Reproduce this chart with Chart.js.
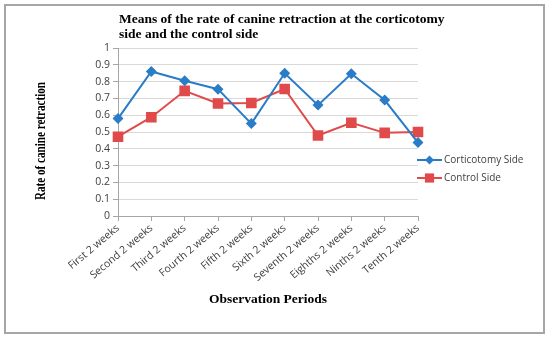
<!DOCTYPE html>
<html>
<head>
<meta charset="utf-8">
<script src="https://cdn.jsdelivr.net/npm/chart.js@4/dist/chart.umd.min.js"></script>
<style>
  html, body { margin: 0; padding: 0; background: #fff; }
  canvas { display: block; }
</style>
</head>
<body>
<canvas id="myChart" width="550" height="338"></canvas>
<script>
// Observation periods (x categories)
const periods = ['First 2 weeks', 'Second 2 weeks', 'Third 2 weeks', 'Fourth 2 weeks', 'Fifth 2 weeks',
  'Sixth 2 weeks', 'Seventh 2 weeks', 'Eighths 2 weeks', 'Ninths 2 weeks', 'Tenth 2 weeks'];

// Means
const corticotomySide = [0.58, 0.86, 0.805, 0.755, 0.55, 0.85, 0.66, 0.847, 0.69, 0.437];
const controlSide = [0.472, 0.588, 0.745, 0.67, 0.673, 0.756, 0.479, 0.555, 0.495, 0.5];

const yTickLabels = ['0', '0.1', '0.2', '0.3', '0.4', '0.5', '0.6', '0.7', '0.8', '0.9', '1'];
const titleLines = ['Means of the rate of canine retraction at the corticotomy', 'side and the control side'];
const yTitle = 'Rate of canine retraction';

const BLUE = '#2a7cc7';
const RED = '#e04a4a';
const SERIF = '"Liberation Serif", "Times New Roman", serif';

// frame round the whole picture
const framePlugin = {
  id: 'frame',
  beforeDraw(chart) {
    const ctx = chart.ctx;
    ctx.save();
    ctx.fillStyle = '#fff';
    ctx.fillRect(0, 0, chart.width, chart.height);
    ctx.strokeStyle = '#a6a6a6';
    ctx.lineWidth = 2;
    ctx.strokeRect(5, 5, 539, 328);
    ctx.restore();
  }
};

// title starts at the plot's left edge but is wider than the plot,
// y title is a tall narrow face a bit below the plot centre
const textPlugin = {
  id: 'texts',
  afterDraw(chart) {
    const ctx = chart.ctx;
    ctx.save();
    ctx.font = 'bold 13.5px ' + SERIF;
    ctx.fillStyle = '#000';
    ctx.textBaseline = 'middle';
    titleLines.forEach((line, i) => ctx.fillText(line, chart.chartArea.left + 1, 20 + i * 15));

    ctx.translate(41, 141);
    ctx.rotate(-Math.PI / 2);
    ctx.font = 'bold 14px ' + SERIF;
    ctx.textAlign = 'center';
    ctx.fillText(yTitle, 0, 0, 118);
    ctx.restore();
  }
};

// legend to the right, built from the datasets
const legendPlugin = {
  id: 'sideLegend',
  afterDraw(chart) {
    const ctx = chart.ctx;
    ctx.save();
    ctx.font = '10px "Open Sans", sans-serif';
    ctx.textBaseline = 'middle';
    chart.data.datasets.forEach((ds, i) => {
      const y = 160 + i * 18;
      ctx.strokeStyle = ds.borderColor;
      ctx.lineWidth = 2;
      ctx.beginPath();
      ctx.moveTo(417, y);
      ctx.lineTo(442, y);
      ctx.stroke();
      ctx.fillStyle = ds.backgroundColor;
      Chart.helpers.drawPoint(ctx, { pointStyle: ds.pointStyle, radius: ds.pointRadius - 1, borderWidth: 0 }, 429.5, y);
      ctx.fillStyle = '#404040';
      ctx.fillText(ds.label, 444, y + 0.5);
    });
    ctx.restore();
  }
};

const ctx = document.getElementById('myChart').getContext('2d');
new Chart(ctx, {
  type: 'line',
  data: {
    labels: periods,
    datasets: [{
      label: 'Corticotomy Side',
      data: corticotomySide,
      borderColor: BLUE,
      backgroundColor: BLUE,
      borderWidth: 2,
      pointStyle: 'rectRot',
      pointRadius: 5.5,
      pointBorderWidth: 0,
      tension: 0
    }, {
      label: 'Control Side',
      data: controlSide,
      borderColor: RED,
      backgroundColor: RED,
      borderWidth: 2,
      pointStyle: 'rect',
      pointRadius: 7.5,
      pointBorderWidth: 0,
      tension: 0
    }]
  },
  options: {
    responsive: false,
    animation: false,
    layout: { padding: { left: 48, right: 132, top: 48, bottom: 30 } },
    plugins: {
      legend: { display: false },
      title: { display: false },
      tooltip: { enabled: false }
    },
    scales: {
      x: {
        offset: false,
        afterFit: (scale) => { scale.height = 92; },
        grid: { drawOnChartArea: false, drawTicks: true, tickLength: 5, color: '#a6a6a6' },
        border: { color: '#a6a6a6', width: 1 },
        ticks: {
          autoSkip: false,
          minRotation: 40,
          maxRotation: 40,
          padding: 1,
          color: '#404040',
          font: { family: '"Open Sans", sans-serif', size: 10.5 }
        },
        title: {
          display: true,
          text: 'Observation Periods',
          color: '#000',
          padding: 0,
          font: { family: SERIF, size: 13.5, weight: 'bold' }
        }
      },
      y: {
        min: 0,
        max: 1,
        afterFit: (scale) => { scale.width = 70; },
        grid: { color: '#d9d9d9', tickColor: '#a6a6a6', tickLength: 5 },
        border: { color: '#a6a6a6', width: 1 },
        ticks: {
          stepSize: 0.1,
          padding: 3,
          color: '#404040',
          font: { family: '"Open Sans", sans-serif', size: 10.5 },
          callback: (v, i) => yTickLabels[i]
        }
      }
    }
  },
  plugins: [framePlugin, textPlugin, legendPlugin]
});
</script>
</body>
</html>
